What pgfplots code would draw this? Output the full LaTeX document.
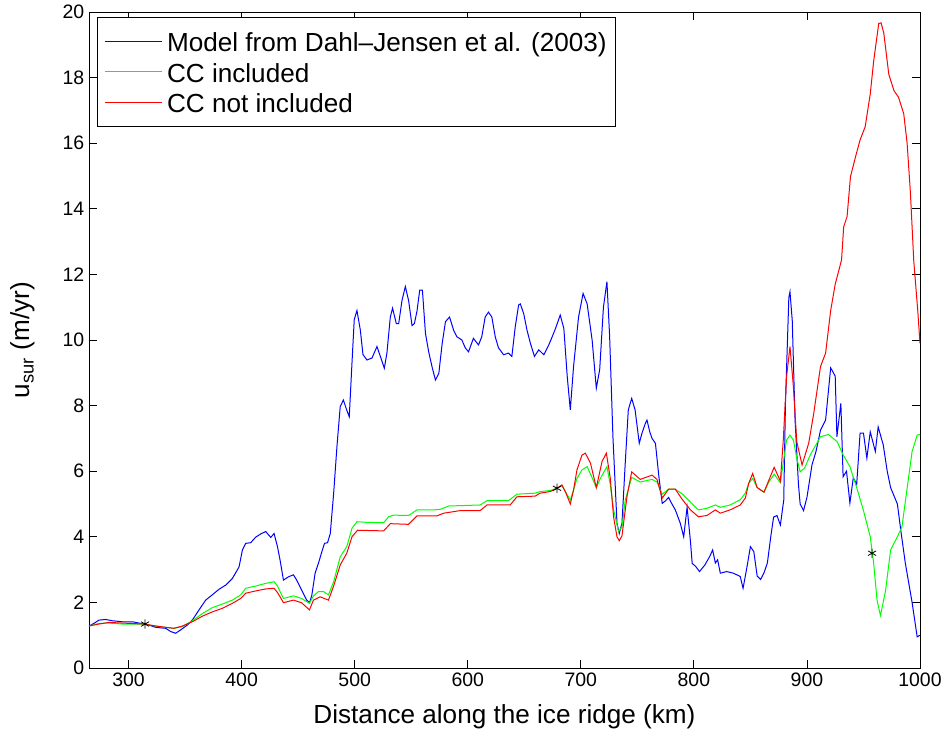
\documentclass[border=0pt]{standalone}
\usepackage{pgfplots}
\pgfplotsset{compat=1.18}
\usepackage{fontspec}
\setmainfont{Liberation Sans}
\newcommand{\lgd}[1]{\raisebox{0pt}[17.7pt][1.1pt]{#1}}
\begin{document}
\begin{tikzpicture}
\begin{axis}[
  scale only axis,
  width=623.25pt, height=492pt,
  xmin=265, xmax=1000, ymin=0, ymax=20,
  xtick={300,400,...,1000}, ytick={0,2,...,20},
  tick align=inside, major tick length=6pt,
  axis line style={line width=0.6pt},
  every tick/.style={black, line width=0.6pt},
  /pgf/number format/assume math mode=true,
  /pgf/number format/1000 sep={},
  ticklabel style={font=\fontsize{14.6pt}{16pt}\selectfont},
  label style={font=\fontsize{19.6pt}{22pt}\selectfont},
  xlabel={Distance along the ice ridge (km)},
  ylabel={u\textsubscript{sur} (m/yr)},
  xlabel style={yshift=-7pt},
  ylabel style={yshift=14pt},
  legend style={at={(0,1)}, anchor=north west, xshift=6pt, yshift=-3.75pt,
    font=\fontsize{19.6pt}{22pt}\selectfont, draw=black, line width=0.6pt,
    row sep=0.7pt, inner xsep=5pt, inner ysep=6.7pt,
    nodes={inner sep=1.5pt},
    /tikz/every odd column/.append style={column sep=2pt}},
  legend cell align=left,
  legend image code/.code={\draw[#1] (0pt,0pt) -- (43pt,0pt);},
]
\addplot[blue, line width=0.75pt] coordinates {
(265,1.28)(269.4,1.36)(273.8,1.46)(279.7,1.48)(285.6,1.44)(294.5,1.41)(303.3,1.41)(313.7,1.34)(318,1.31)(324,1.24)(332.8,1.21)(337.3,1.11)(341.7,1.06)(346,1.16)(352,1.31)(356.4,1.46)(362.3,1.77)(368.2,2.07)(374,2.23)(380,2.4)(386,2.53)(391.8,2.73)(397.7,3.08)(400.7,3.6)(403.6,3.8)(408,3.82)(412.5,3.99)(417,4.09)(421.3,4.16)(425.8,3.98)(428.7,4.1)(431.7,3.7)(434,3.29)(437,2.68)(441.4,2.78)(445.8,2.84)(448.7,2.68)(453,2.38)(457.5,2.07)(460,1.99)(462,2.2)(465,2.89)(468,3.2)(471,3.55)(473.3,3.8)(476,3.82)(478.4,4.1)(481.4,5.33)(484.3,6.75)(487.2,7.97)(490,8.17)(493,7.86)(495.2,7.66)(497.6,9.3)(499.6,10.62)(502,10.9)(505,10.3)(507.3,9.56)(510.8,9.39)(515.3,9.45)(519.7,9.8)(522.7,9.5)(526.2,9.14)(528.5,9.6)(531.5,10.7)(533.5,10.97)(536.8,10.5)(538.9,10.5)(541.8,11.2)(544.8,11.63)(547.7,11.2)(550.7,10.44)(552.8,10.5)(555.1,10.88)(557.5,11.52)(559.9,11.52)(562.6,10.2)(565.5,9.63)(568.5,9.17)(571.4,8.78)(574.4,8.98)(577.4,9.9)(580.3,10.56)(583.9,10.7)(587.5,10.3)(590.4,10.1)(594.8,10.0)(597.8,9.76)(600.7,9.64)(605,10.05)(609.5,9.85)(612.4,10.1)(615.4,10.7)(618.3,10.85)(621.3,10.7)(624.3,10.1)(627.2,9.76)(631.7,9.55)(636,9.6)(639,9.5)(642,10.4)(645,11.07)(646.5,11.1)(649.5,10.8)(652.4,10.3)(655.4,9.9)(659,9.5)(662.8,9.7)(667.3,9.55)(671.7,9.85)(674.7,10.1)(677.6,10.35)(681.8,10.76)(685,10.35)(688,8.88)(690.7,7.87)(693.6,9.2)(698,10.7)(702,11.42)(705.6,11.1)(710,10.0)(713.7,8.53)(716.7,9.1)(720,11.0)(723.1,11.78)(725.5,10.1)(728.4,7.05)(732,4.41)(734,4.1)(736.4,4.41)(739.3,6.25)(742,7.87)(745,8.22)(748,7.87)(751.7,6.85)(754,7.15)(757,7.45)(758.5,7.56)(761,7.2)(763,7.0)(766,6.85)(769,5.85)(772,5.02)(775,5.1)(777.6,5.2)(780.6,5.0)(783.6,4.82)(788,4.41)(791,4.0)(794,4.9)(797,3.85)(798.5,3.19)(801.5,3.1)(805,2.94)(809.7,3.14)(814,3.4)(816.6,3.6)(819,3.2)(821,3.3)(823.4,2.89)(829,2.94)(835,2.89)(841,2.79)(843.5,2.43)(846.5,2.99)(850,3.7)(853,3.55)(856,2.8)(859,2.7)(862,2.9)(865,3.2)(868,4.0)(870.5,4.6)(873.5,4.65)(876.5,4.36)(879.5,5.12)(881,8.07)(884,11.3)(885,11.47)(887,10.6)(889.5,7.56)(892.5,5.6)(894,5.0)(897,4.8)(900,5.2)(904.5,6.2)(908,6.6)(912,7.25)(916.5,7.56)(921,9.15)(925,8.9)(926.5,7.05)(930,8.07)(932,5.83)(935,6.0)(938,5.03)(941,5.8)(944,5.6)(947,7.16)(950,7.16)(953,6.4)(956,7.2)(960.5,6.6)(963,7.35)(967.5,6.8)(971,6.0)(974,5.5)(980,5.0)(983,4.2)(987,3.2)(993,2.0)(997.5,0.95)(1000,1.0)
};
\addlegendentry{\lgd{Model from Dahl--Jensen et al. (2003)}}
\addplot[green, line width=0.75pt] coordinates {
(265,1.28)(273.8,1.36)(282.7,1.37)(294.5,1.34)(313.7,1.34)(324,1.28)(332.8,1.24)(340,1.21)(347.6,1.26)(356.4,1.44)(365.3,1.66)(374,1.84)(383,1.95)(391.8,2.07)(399.2,2.23)(403.6,2.43)(412.5,2.5)(421.3,2.58)(428.7,2.63)(431.7,2.5)(434,2.33)(437,2.12)(445.8,2.2)(453,2.12)(460,1.97)(463.5,2.2)(468,2.33)(472.4,2.33)(476.8,2.23)(481.4,2.63)(487.2,3.39)(493,3.7)(497.6,4.26)(502,4.46)(510.8,4.44)(525.6,4.43)(530,4.61)(534.4,4.66)(547.7,4.65)(555.1,4.82)(570,4.82)(575.9,4.84)(583.3,4.94)(593.6,4.95)(611,4.97)(617,5.1)(636,5.1)(643.5,5.3)(659.7,5.33)(664,5.38)(673,5.41)(678.9,5.48)(683.3,5.55)(686.3,5.38)(690.7,5.12)(693.6,5.43)(696.6,5.78)(701,6.04)(705.6,6.14)(710,5.8)(713.7,5.5)(717.3,5.78)(723.1,6.14)(726,5.6)(729,4.82)(733.4,4.16)(736.4,4.3)(739.3,5.12)(745,5.81)(752.6,5.67)(763,5.75)(767.4,5.67)(772,5.3)(777.6,5.45)(783.6,5.45)(790,5.3)(798,5.02)(804,4.82)(811.6,4.87)(819,4.97)(823.4,4.9)(832,4.97)(841,5.13)(845.5,5.33)(848.5,5.63)(852,5.78)(856,5.5)(862,5.36)(866,5.65)(871,5.91)(876.5,5.65)(879,6.24)(882,6.95)(885,7.1)(888,6.95)(891,6.4)(894,5.98)(898,6.1)(903,6.5)(912,7.05)(919,7.12)(926.7,6.9)(932,6.5)(938,6.14)(944,5.5)(950,4.8)(956,4.0)(959,3.2)(962,2.07)(965,1.6)(969.5,2.35)(974,3.6)(980,4.0)(984,4.3)(988.5,5.45)(993,6.6)(997.5,7.1)(1000,7.12)
};
\addlegendentry{\lgd{CC included}}
\addplot[red, line width=0.75pt] coordinates {
(265,1.28)(273.8,1.34)(282.7,1.39)(294.5,1.37)(313.7,1.34)(324,1.28)(332.8,1.24)(340,1.21)(347.6,1.28)(356.4,1.41)(365.3,1.58)(374,1.71)(383,1.82)(391.8,1.97)(399.2,2.12)(403.6,2.28)(412.5,2.35)(421.3,2.41)(428.7,2.43)(431.7,2.3)(434,2.17)(437,1.99)(445.8,2.07)(453,1.99)(460,1.77)(463.5,2.07)(469.4,2.17)(476.8,2.07)(481.4,2.5)(487.2,3.14)(493,3.5)(497.6,4.0)(502.5,4.2)(525.6,4.18)(531.5,4.4)(547.7,4.38)(555.1,4.64)(572.9,4.64)(578.8,4.72)(593.6,4.8)(611,4.8)(617,4.97)(637.5,4.97)(643.5,5.22)(659.7,5.24)(664,5.33)(673,5.38)(679,5.48)(683.3,5.58)(686.3,5.38)(690.7,5.0)(693.6,5.43)(696.6,6.04)(701,6.49)(704,6.55)(708.5,6.25)(713.7,5.5)(718.8,6.3)(722.6,6.55)(726,5.8)(729,4.6)(732,4.0)(734,3.88)(736.4,4.03)(740.8,5.22)(745,5.98)(752.6,5.75)(763,5.88)(767.4,5.75)(772,5.18)(777.6,5.45)(783.6,5.45)(789.5,5.15)(797,4.82)(804,4.61)(811.6,4.65)(819,4.82)(823.4,4.72)(832,4.82)(841,4.97)(845.5,5.18)(848.5,5.63)(852,5.93)(856,5.5)(862,5.36)(866,5.7)(871,6.12)(876.5,5.7)(879,6.9)(882,8.88)(885,9.8)(888,8.58)(891,6.9)(895.7,6.19)(901.6,6.86)(906,7.76)(912,9.19)(916.5,9.6)(921,10.9)(925,11.7)(930.6,12.44)(932.5,13.45)(935.5,13.76)(938.5,14.98)(943,15.59)(947,16.1)(951.5,16.5)(956,17.5)(959,18.5)(963.5,19.65)(965.6,19.67)(968,19.35)(972.4,18.1)(977,17.6)(981,17.4)(985.6,16.9)(988.6,16.0)(991.5,14.5)(994.5,12.4)(998,10.9)(1000,9.9)
};
\addlegendentry{\lgd{CC not included}}
\addplot[black, only marks, mark=asterisk, mark size=3.5pt, line width=0.6pt, forget plot] coordinates {
(314.6,1.34)(678.9,5.48)(957.6,3.5)
};
\end{axis}
\path (-66.75pt,-51pt) rectangle (646.5pt,501pt);
\end{tikzpicture}
\end{document}
